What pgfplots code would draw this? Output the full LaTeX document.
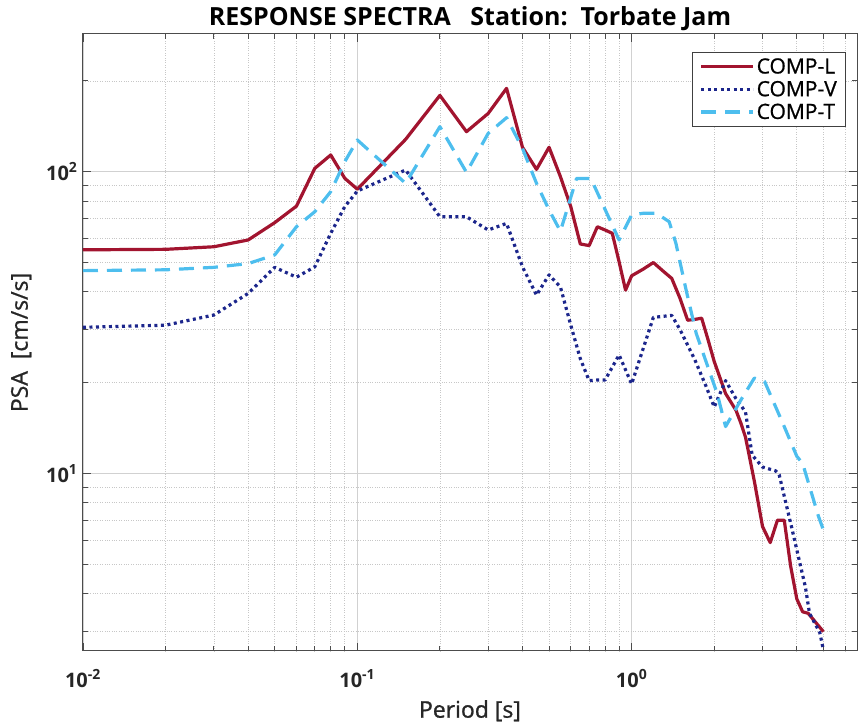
\documentclass[border=0pt]{standalone}
\usepackage{fontspec}
\setmainfont{Open Sans}
\newfontfamily\sbfont{Open Sans}[FakeBold=0.9]
\usepackage{pgfplots}
\pgfplotsset{compat=1.18}
\definecolor{cL}{RGB}{162,20,47}
\definecolor{cV}{RGB}{28,38,140}
\definecolor{cT}{RGB}{77,190,238}
\definecolor{axgray}{RGB}{38,38,38}

\begin{document}
\begin{tikzpicture}
\begin{axis}[
  xmode=log, ymode=log,
  scale only axis, width=774bp, height=617bp,
  xmin=0.01, xmax=6.63, ymin=2.58, ymax=286,
  xtick={0.01,0.1,1},
  xticklabels={\textbf{10\textsuperscript{-2}},\textbf{10\textsuperscript{-1}},\textbf{10\textsuperscript{0}}},
  ytick={10,100},
  yticklabels={\textbf{10\textsuperscript{1}},\textbf{10\textsuperscript{2}}},
  minor xtick={0.02,0.03,0.04,0.05,0.06,0.07,0.08,0.09,0.2,0.3,0.4,0.5,0.6,0.7,0.8,0.9,2,3,4,5,6},
  minor ytick={3,4,5,6,7,8,9,20,30,40,50,60,70,80,90,200},
  grid=both,
  major grid style={black!18, line width=0.7bp},
  minor grid style={black!22, dotted, line width=0.7bp},
  axis line style={black!70, line width=1bp},
  tick style={black!70, line width=0.8bp},
  major tick length=8bp, minor tick length=5bp,
  tick align=inside,
  ticklabel style={font=\fontsize{20bp}{23bp}\selectfont, text=axgray},
  xticklabel style={yshift=-15bp},
  yticklabel style={xshift=-2bp},
  xlabel={Period [s]},
  ylabel={PSA\ \ [cm/s/s]},
  label style={font=\sbfont\fontsize{23bp}{27bp}\selectfont, text=axgray},
  xlabel style={yshift=-6bp},
  ylabel style={yshift=8bp},
  title={\textbf{RESPONSE SPECTRA\ \ \ Station:\ \ Torbate Jam}},
  title style={font=\fontsize{25bp}{28bp}\selectfont, yshift=-6bp},
  legend style={at={(0.986,0.971)}, anchor=north east, draw=black!75, line width=0.8bp,
    font=\sbfont\fontsize{21bp}{24bp}\selectfont, row sep=2bp, inner xsep=7bp, inner ysep=4bp},
  legend cell align=left,
  legend image code/.code={\draw[#1] (0bp,0bp) -- (52bp,0bp);},
  every axis plot/.append style={line width=3.2bp, line join=round},
]
\addplot[color=cL, solid] coordinates {
(0.01,55.1) (0.02,55.3) (0.03,56.4) (0.04,59.4) (0.05,67.8) (0.06,76.9)
(0.07,102.6) (0.08,113.6) (0.09,95.1) (0.1,87.5) (0.15,128) (0.2,179)
(0.25,135.7) (0.3,156) (0.35,188.9) (0.4,120.5) (0.45,101.8) (0.5,120.5)
(0.55,96.3) (0.6,76.6) (0.65,57.6) (0.7,56.9) (0.75,65.7) (0.8,64.1)
(0.85,62.5) (0.9,50.3) (0.95,40.5) (1.0,45.2) (1.1,47.5) (1.2,50.0)
(1.3,46.9) (1.4,44.3) (1.5,38.1) (1.6,32.2) (1.7,32.4) (1.8,32.7)
(1.9,27.7) (2.0,23.5) (2.2,18.4) (2.4,16.2) (2.5,14.7) (2.6,13.2)
(2.8,9.44) (3.0,6.67) (3.2,5.9) (3.4,7.0) (3.6,7.0) (3.8,4.92)
(4.0,3.84) (4.2,3.48) (4.4,3.44) (5.0,2.99)
};
\addlegendentry{COMP-L}
\addplot[color=cV, line cap=butt, dash pattern=on 3bp off 3.5bp] coordinates {
(0.01,30.5) (0.02,31.0) (0.03,33.5) (0.04,39.5) (0.05,48.2) (0.06,44.7)
(0.07,48.4) (0.08,62.5) (0.09,76.6) (0.1,86.3) (0.15,101.3) (0.2,70.9)
(0.25,70.9) (0.3,64.1) (0.35,67.4) (0.4,48.4) (0.45,39.0) (0.5,45.5)
(0.55,41.5) (0.6,31.0) (0.65,24.0) (0.7,20.3) (0.75,20.4) (0.8,20.4)
(0.9,24.7) (1.0,19.8) (1.2,32.9) (1.4,33.4) (1.5,30.0) (1.7,23.8)
(1.87,19.4) (2.0,16.6) (2.2,20.3) (2.4,17.7) (2.6,16.0) (2.75,11.5)
(3.0,10.5) (3.35,10.2) (3.45,9.9) (3.85,6.5) (4.3,4.2) (4.45,3.44)
(4.85,2.97) (5.0,2.6)
};
\addlegendentry{COMP-V}
\addplot[color=cT, dash pattern=on 15bp off 9bp] coordinates {
(0.01,47.0) (0.02,47.3) (0.03,48.2) (0.04,49.6) (0.05,53.0) (0.06,65.7)
(0.07,73.7) (0.08,85.9) (0.09,107.9) (0.1,127.4) (0.15,91.5) (0.2,141)
(0.25,99.5) (0.3,134) (0.35,151) (0.4,119.5) (0.45,91.5) (0.5,74.7)
(0.55,63.5) (0.63,95) (0.71,95) (0.9,59.4) (1.0,71.9) (1.1,72.8)
(1.23,72.8) (1.37,68.3) (1.45,57.9) (1.58,40.5) (1.72,29.1) (2.05,18.4)
(2.2,14.3) (2.5,17.5) (2.8,20.7) (3.05,20.2) (3.6,14.3) (4.0,11.4)
(4.2,10.8) (4.8,7.2) (5.0,6.5)
};
\addlegendentry{COMP-T}
\end{axis}
\pgfresetboundingbox
\path[use as bounding box] ([shift={(-83bp,-74bp)}]current axis.south west) rectangle ([shift={(1bp,34bp)}]current axis.north east);
\end{tikzpicture}
\end{document}
